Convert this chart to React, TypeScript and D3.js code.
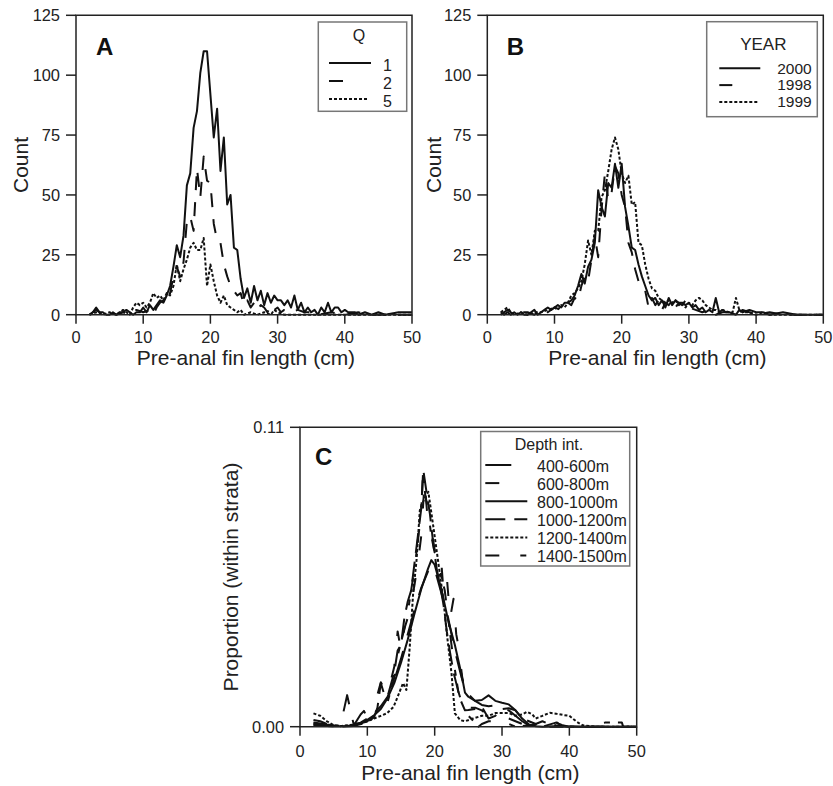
import React from "react";
import * as d3 from "d3";

type Pt = [number, number];

// ---------- Panel A: counts by Q ----------
const Q1: Pt[] = [[2,0],[2.5,1],[3,3],[3.5,1],[4,1],[4.5,0],[5,0],[5.5,1],[6,0],[6.5,1],[7,1],[7.5,2],[8,1],[8.5,0],[9,1],[9.5,1],[10,3],[10.5,1],[11,4],[11.5,2],[12,4],[12.5,6],[13,5],[13.5,8],[14,12],[14.5,20],[15,29],[15.5,24],[16,33],[16.5,54],[17,59],[17.5,78],[18,85],[18.5,101],[19,110],[19.5,110],[20,92],[20.5,74],[21,86],[21.5,60],[22,74],[22.5,46],[23,50],[23.5,28],[24,27],[24.5,15],[25,7],[25.5,11],[26,5],[26.5,12],[27,6],[27.5,10],[28,4],[28.5,9],[29,5],[29.5,8],[30,6],[30.5,6],[31,4],[31.5,6],[32,3],[32.5,8],[33,2],[33.5,5],[34,1],[34.5,3],[35,1],[35.5,2],[36,0],[36.5,3],[37,1],[37.5,5],[38,1],[38.5,3],[39,3],[39.5,1],[40,2],[40.5,1],[41,1],[41.5,1],[42,0],[43,1],[44,0],[45,1],[46,0],[48,1],[50,1]];
const Q2: Pt[] = [[2,0],[3,2],[4,0],[5,1],[6,0],[7,1],[8,0],[9,2],[10,1],[11,2],[11.5,0],[12,3],[12.5,5],[13,6],[13.5,5],[14,9],[14.5,16],[15,20],[15.5,16],[16,22],[16.5,39],[17,41],[17.5,35],[18,61],[18.5,49],[19,66],[19.5,56],[20,55],[20.5,38],[21,31],[21.5,30],[22,21],[22.5,16],[23,12],[23.5,10],[24,8],[24.5,9],[25,4],[25.5,6],[26,3],[26.5,5],[27,2],[27.5,4],[28,3],[28.5,1],[29,4],[29.5,2],[30,3],[30.5,1],[31,2],[32,1],[33,2],[34,1],[35,1],[36,0],[38,1],[40,0],[42,1],[44,0],[50,0]];
const Q5: Pt[] = [[2,0],[3,1],[4,0],[5,1],[6,0],[7,2],[7.5,1],[8,0],[8.5,3],[9,5],[9.5,4],[10,5],[10.5,3],[11,5],[11.5,9],[12,7],[12.5,8],[13,6],[13.5,9],[14,8],[14.5,12],[15,21],[15.5,14],[16,19],[16.5,23],[17,28],[17.5,30],[18,27],[18.5,27],[19,32],[19.5,12],[20,21],[20.5,14],[21,8],[21.5,5],[22,8],[22.5,4],[23,3],[23.5,2],[24,1],[24.5,2],[25,0],[26,1],[27,0],[28,1],[29,0],[29.5,2],[30,1],[31,0],[50,0]];

// ---------- Panel B: counts by YEAR ----------
const Y2000: Pt[] = [[2,1],[2.5,0],[3,1],[3.5,0],[4,1],[4.5,0],[5,1],[5.5,0],[6,0],[6.5,1],[7,2],[7.5,0],[8,1],[8.5,2],[9,3],[9.5,2],[10,3],[10.5,4],[11,3],[11.5,5],[12,5],[12.5,6],[13,8],[13.5,12],[14,17],[14.5,13],[15,20],[15.5,23],[16,30],[16.5,52],[17,45],[17.5,41],[18,55],[18.5,53],[19,63],[19.5,53],[20,63],[20.5,45],[21,37],[21.5,28],[22,27],[22.5,21],[23,16],[23.5,12],[24,8],[24.5,6],[25,7],[25.5,4],[26,6],[26.5,3],[27,7],[27.5,4],[28,6],[28.5,5],[29,5],[29.5,4],[30,5],[30.5,3],[31,4],[31.5,2],[32,3],[32.5,1],[33,2],[33.5,1],[34,7],[34.5,1],[35,2],[35.5,1],[36,1],[37,0],[37.5,2],[38,1],[39,2],[40,1],[41,1],[42,0],[44,1],[46,0],[50,0]];
const Y1998: Pt[] = [[2,0],[3,2],[3.5,1],[4,0],[5,1],[6,1],[7,0],[8,2],[9,1],[10,3],[11,2],[11.5,4],[12,5],[12.5,4],[13,7],[13.5,6],[14,12],[14.5,16],[15,14],[15.5,23],[16,33],[16.5,24],[17,44],[17.5,59],[18,48],[18.5,51],[19,62],[19.5,59],[20,50],[20.5,45],[21,30],[21.5,26],[22,19],[22.5,14],[23,12],[23.5,10],[24,3],[24.5,7],[25,4],[25.5,6],[26,2],[26.5,5],[27,4],[27.5,6],[28,3],[28.5,5],[29,4],[29.5,6],[30,3],[31,2],[32,1],[33,2],[34,0],[35,1],[36,1],[37,0],[38,2],[39,1],[40,0],[42,1],[44,0],[50,0]];
const Y1999: Pt[] = [[2,1],[3,3],[3.5,1],[4,0],[5,1],[6,0],[7,1],[8,1],[9,2],[10,3],[10.5,2],[11,4],[11.5,3],[12,5],[12.5,8],[13,9],[13.5,11],[14,14],[14.5,21],[15,31],[15.5,25],[16,35],[16.5,35],[17,49],[17.5,52],[18,60],[18.5,69],[19,74],[19.5,69],[20,59],[20.5,55],[21,58],[21.5,46],[22,47],[22.5,30],[23,29],[23.5,21],[24,15],[24.5,11],[25,10],[25.5,7],[26,6],[26.5,5],[27,6],[27.5,5],[28,6],[28.5,4],[29,5],[29.5,3],[30,5],[30.5,4],[31,6],[31.5,7],[32,6],[32.5,4],[33,3],[33.5,2],[34,2],[34.5,1],[35,2],[36,1],[36.5,1],[37,7],[37.5,2],[38,1],[39,1],[40,0],[41,1],[42,0],[50,0]];

// ---------- Panel C: proportion within depth strata ----------
const D400: Pt[] = [[2,0.0015],[3,0.0012],[4,0.0008],[5,0.0005],[6,0.0003],[7,0.0116],[7.5,0.006],[8,0.0005],[9,0.0045],[9.5,0.0058],[10,0.003],[11,0.005],[12,0.0075],[13,0.011],[14,0.017],[15,0.025],[16,0.034],[17,0.043],[18,0.051],[19,0.057],[19.5,0.059],[20,0.058],[21,0.049],[22,0.04],[23,0.028],[24,0.018],[25,0.012],[26,0.0095],[27,0.008],[28,0.0075],[29,0.0078],[30,0.0065],[31,0.006],[32,0.004],[33,0.002],[34,0.0005],[36,0],[38,0.0015],[39,0.0005],[40,0],[45,0],[50,0]];
const D600: Pt[] = [[2,0.0025],[3,0.002],[4,0.001],[5,0],[6,0],[7,0.0005],[8,0.001],[9,0.0015],[10,0.003],[11,0.0073],[12,0.0163],[13,0.012],[14,0.022],[14.5,0.035],[15,0.028],[15.5,0.036],[16,0.04],[16.5,0.045],[17,0.052],[17.5,0.06],[18,0.07],[18.5,0.09],[19,0.075],[19.5,0.072],[20,0.065],[20.5,0.058],[21,0.06],[21.3,0.05],[21.8,0.055],[22.3,0.04],[22.8,0.047],[23.2,0.034],[23.5,0.03],[24,0.02],[24.5,0.01],[25,0.007],[26,0.007],[27,0.006],[28,0.004],[29,0.005],[30,0.004],[31,0.003],[32,0.002],[33,0.001],[35,0],[40,0],[50,0]];
const D800: Pt[] = [[2,0.0008],[3,0.0006],[4,0.0003],[5,0.0002],[6,0.0002],[7,0.0003],[8,0.0006],[9,0.0012],[10,0.0025],[11,0.0042],[12,0.0065],[13,0.0105],[14,0.016],[15,0.0235],[16,0.032],[17,0.0415],[18,0.0505],[19,0.058],[19.5,0.0612],[20,0.0595],[21,0.0505],[22,0.039],[23,0.03],[24,0.019],[24.5,0.0125],[25,0.011],[26,0.0095],[27,0.0098],[28,0.0115],[29,0.0095],[30,0.0088],[31,0.0082],[32,0.006],[33,0.003],[34,0.0008],[35,0.0002],[36,0],[38,0.0002],[40,0],[45,0],[50,0]];
const D1000: Pt[] = [[2,0.0005],[4,0.0003],[6,0],[8,0.0003],[10,0.0015],[11,0.0035],[11.5,0.007],[12,0.016],[12.5,0.012],[13,0.011],[14,0.02],[14.5,0.028],[15,0.03],[15.5,0.04],[16,0.046],[16.5,0.05],[17,0.06],[17.5,0.07],[18,0.08],[18.3,0.0945],[18.8,0.086],[19.3,0.078],[19.8,0.067],[20.3,0.058],[20.8,0.052],[21.3,0.045],[21.8,0.035],[22.3,0.027],[22.8,0.02],[23.3,0.015],[23.8,0.01],[24.5,0.006],[25,0.0061],[26,0.0065],[27,0.0073],[28,0.003],[29,0.004],[30,0.0065],[31,0.0068],[32,0.006],[33,0.003],[34,0.002],[35,0.001],[36,0.002],[37,0.001],[38,0.0005],[40,0],[45,0],[50,0]];
const D1200: Pt[] = [[2,0.0049],[3,0.004],[4,0.002],[5,0.0005],[6,0.0002],[7,0.0005],[8,0.0008],[9,0.001],[10,0.002],[11,0.003],[12,0.004],[12.9,0.0049],[13.9,0.0073],[14.5,0.011],[15.3,0.016],[15.8,0.0135],[16.3,0.0294],[16.8,0.049],[17.3,0.061],[17.8,0.0796],[18.5,0.084],[19.06,0.0863],[19.8,0.0735],[20.5,0.061],[21.3,0.0465],[21.8,0.0343],[22.5,0.0196],[23,0.0049],[23.8,0.0024],[24.5,0.002],[25.7,0.003],[27,0.004],[28,0.004],[29,0.005],[30,0.005],[31,0.005],[32,0.004],[33,0.0045],[33.7,0.0055],[34.5,0.0045],[35,0.003],[36,0.004],[37.1,0.0051],[38,0.0048],[39.1,0.0043],[40,0.004],[41.1,0.0018],[42,0.0005],[44,0],[50,0]];
const D1400: Pt[] = [[2,0.0012],[3,0.001],[4,0.0005],[6,0],[8,0.0004],[10,0.002],[11,0.004],[12,0.006],[13,0.009],[14,0.018],[14.5,0.026],[15,0.031],[15.5,0.036],[16,0.042],[16.5,0.05],[17,0.058],[17.5,0.068],[18,0.079],[18.3,0.095],[18.6,0.085],[19,0.08],[19.5,0.07],[20,0.064],[20.5,0.062],[21,0.055],[21.5,0.05],[22,0.04],[22.5,0.03],[23,0.021],[23.5,0.013],[24,0.009],[25,0.004],[26,0.0015],[26.5,0],[27,0.001],[28,0.002],[29,0.002],[30,0.003],[31,0.001],[32,0],[34,0.0005],[36,0.001],[37.6,0.0025],[38.6,0.0008],[40,0.0002],[42,0],[45.3,0.0015],[47.8,0.0015],[48,0],[50,0]];

const X_TICKS = [0, 10, 20, 30, 40, 50];
const COUNT_TICKS = [0, 25, 50, 75, 100, 125];
const PROP_TICKS = [0, 0.11];

const Q_LABELS = ["1", "2", "5"];
const YEAR_LABELS = ["2000", "1998", "1999"];
const DEPTH_LABELS = ["400-600m", "600-800m", "800-1000m", "1000-1200m", "1200-1400m", "1400-1500m"];

const FONT = "'Liberation Sans', Arial, Helvetica, sans-serif";

interface Series { data: Pt[]; dash: string; legendLen: number; }
interface LegendSpec {
  box: [number, number, number, number];
  title: string; titleX: number; titleY: number; titleSize: number;
  labels: string[]; lineX: number; row0: number; rowDy: number;
  textX: number; textAnchor: "start" | "end"; textDy: number; textSize: number;
}
interface PanelProps {
  x0: number; x1: number; yTop: number; yBot: number;
  yMax: number; yTicks: number[]; yFmt: (v: number) => string;
  series: Series[]; letter: string; letterDx: number; letterDy: number;
  yTitle: string; yTitleX: number; xTickDy: number; xTitleY: number;
  legend: LegendSpec;
}

function Panel(p: PanelProps) {
  const x = d3.scaleLinear().domain([0, 50]).range([p.x0, p.x1]);
  const y = d3.scaleLinear().domain([0, p.yMax]).range([p.yBot, p.yTop]);
  const line = d3.line<Pt>().x(d => x(d[0])).y(d => y(d[1]));
  const lg = p.legend;
  const cy = (p.yTop + p.yBot) / 2;
  return (
    <g fontFamily={FONT} fill="#000">
      {p.series.map((s, i) => (
        <path key={i} d={line(s.data) || ""} fill="none" stroke="#111" strokeWidth={2}
          strokeDasharray={s.dash} strokeLinejoin="round" />
      ))}
      {/* frame */}
      <path d={`M${p.x0},${p.yTop}H${p.x1}V${p.yBot}H${p.x0}Z`} fill="none" stroke="#222" strokeWidth={1.5} />
      {p.yTicks.map(t => (
        <g key={"y" + t}>
          <line x1={p.x0 - 10} x2={p.x0} y1={y(t)} y2={y(t)} stroke="#222" strokeWidth={1.5} />
          <text x={p.x0 - 16} y={y(t) + 5.8} fontSize={16.4} textAnchor="end" fill="#222">{p.yFmt(t)}</text>
        </g>
      ))}
      {X_TICKS.map(t => (
        <g key={"x" + t}>
          <line x1={x(t)} x2={x(t)} y1={p.yBot} y2={p.yBot + 9} stroke="#222" strokeWidth={1.5} />
          <text x={x(t)} y={p.yBot + p.xTickDy} fontSize={16.4} textAnchor="middle" fill="#222">{t}</text>
        </g>
      ))}
      <text x={(p.x0 + p.x1) / 2 + 2} y={p.xTitleY} fontSize={21} textAnchor="middle" fill="#222">Pre-anal fin length (cm)</text>
      <text transform={`translate(${p.yTitleX},${cy}) rotate(-90)`} fontSize={21} textAnchor="middle" fill="#222">{p.yTitle}</text>
      <text x={p.x0 + p.letterDx} y={p.yTop + p.letterDy} fontSize={24} fontWeight="bold" fill="#111">{p.letter}</text>
      {/* legend */}
      <rect x={lg.box[0]} y={lg.box[1]} width={lg.box[2]} height={lg.box[3]} fill="#fff" stroke="#777" strokeWidth={1.5} />
      <text x={lg.titleX} y={lg.titleY} fontSize={lg.titleSize} textAnchor="middle" fill="#222">{lg.title}</text>
      {lg.labels.map((lab, i) => {
        const ry = lg.row0 + i * lg.rowDy;
        const s = p.series[i];
        return (
          <g key={lab}>
            <line x1={lg.lineX} x2={lg.lineX + s.legendLen} y1={ry} y2={ry} stroke="#111" strokeWidth={2} strokeDasharray={s.dash} />
            <text x={lg.textX} y={ry + lg.textDy} fontSize={lg.textSize} textAnchor={lg.textAnchor} fill="#222">{lab}</text>
          </g>
        );
      })}
    </g>
  );
}

const fmtInt = (v: number) => d3.format("d")(v);
const fmt2 = (v: number) => d3.format(".2f")(v);

export default function App() {
  const DASH_A = "14 12";
  const DOT = "3 2";
  const seriesA: Series[] = [
    { data: Q1, dash: "", legendLen: 42 },
    { data: Q2, dash: DASH_A, legendLen: 14 },
    { data: Q5, dash: DOT, legendLen: 40 },
  ];
  const seriesB: Series[] = [
    { data: Y2000, dash: "", legendLen: 41 },
    { data: Y1998, dash: DASH_A, legendLen: 13 },
    { data: Y1999, dash: DOT, legendLen: 38 },
  ];
  const seriesC: Series[] = [
    { data: D400, dash: "26 16", legendLen: 42 },
    { data: D600, dash: "14 28", legendLen: 42 },
    { data: D800, dash: "", legendLen: 42 },
    { data: D1000, dash: "20 9", legendLen: 42 },
    { data: D1200, dash: DOT, legendLen: 42 },
    { data: D1400, dash: "14 21 6 8", legendLen: 42 },
  ];
  return (
    <svg width={833} height={786} style={{ position: "absolute", left: 0, top: 0, background: "#fff" }}>
      <rect x={0} y={0} width={833} height={786} fill="#fff" />
      <Panel x0={76} x1={412} yTop={15.3} yBot={314.7} yMax={125} yTicks={COUNT_TICKS} yFmt={fmtInt}
        series={seriesA} letter="A" letterDx={20} letterDy={39.7} yTitle="Count" yTitleX={28}
        xTickDy={28.5} xTitleY={365}
        legend={{ box: [318.3, 22, 88.4, 89.3], title: "Q", titleX: 359, titleY: 40.5, titleSize: 16,
          labels: Q_LABELS, lineX: 329, row0: 63, rowDy: 18, textX: 392, textAnchor: "end", textDy: 8, textSize: 16 }} />
      <Panel x0={487.3} x1={823.3} yTop={15.3} yBot={314.7} yMax={125} yTicks={COUNT_TICKS} yFmt={fmtInt}
        series={seriesB} letter="B" letterDx={19.4} letterDy={39.7} yTitle="Count" yTitleX={441}
        xTickDy={28.5} xTitleY={365}
        legend={{ box: [706.7, 21.7, 110.6, 95], title: "YEAR", titleX: 763.3, titleY: 49.5, titleSize: 17,
          labels: YEAR_LABELS, lineX: 719.3, row0: 68.3, rowDy: 16.8, textX: 811.7, textAnchor: "end", textDy: 5.2, textSize: 15.5 }} />
      <Panel x0={300} x1={636.7} yTop={427.3} yBot={726.7} yMax={0.11} yTicks={PROP_TICKS} yFmt={fmt2}
        series={seriesC} letter="C" letterDx={15} letterDy={37.7} yTitle="Proportion (within strata)" yTitleX={238.3}
        xTickDy={30} xTitleY={780}
        legend={{ box: [480.7, 431.5, 149, 134.5], title: "Depth int.", titleX: 549, titleY: 450, titleSize: 16,
          labels: DEPTH_LABELS, lineX: 485.3, row0: 465, rowDy: 18.1, textX: 537, textAnchor: "start", textDy: 6.5, textSize: 16 }} />
    </svg>
  );
}
